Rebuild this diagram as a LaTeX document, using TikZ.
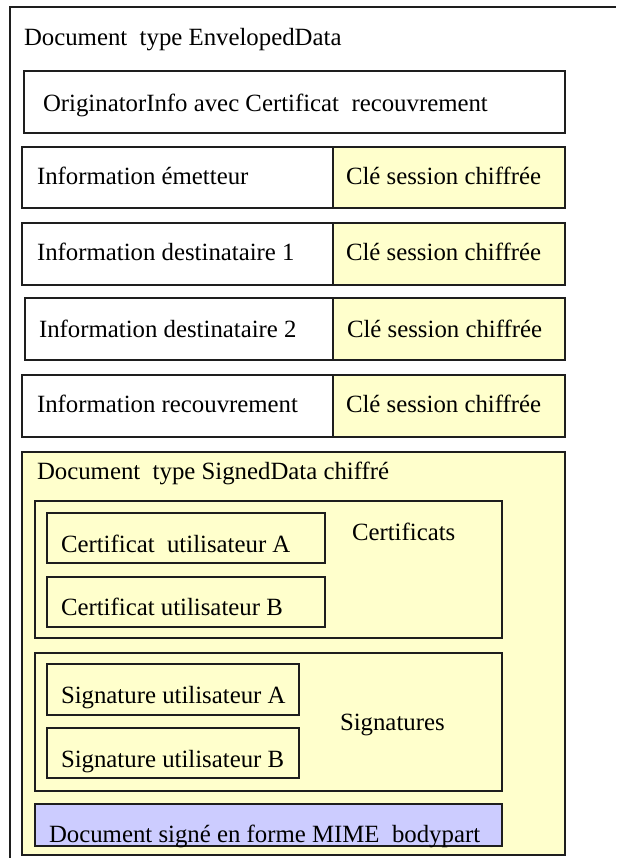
\documentclass[tikz,border=0pt]{standalone}
\usepackage{fontspec}
\setmainfont{Liberation Serif}
\definecolor{lightyellow}{HTML}{FFFFCC}
\definecolor{lavender}{HTML}{CCCCFF}
\definecolor{edge}{HTML}{1E1E1E}
\begin{document}
\begin{tikzpicture}[x=1pt,y=-1pt,
  box/.style={draw=edge, line width=1.5pt, inner sep=0pt, outer sep=0pt, anchor=north west},
  ybox/.style={box, fill=lightyellow},
  lbl/.style={anchor=base west, inner sep=0pt, outer sep=0pt, font=\fontsize{24.8}{30}\selectfont, text=black},
]
\useasboundingbox (0,0) rectangle (616,858);
\fill[white] (0,0) rectangle (616,858);
% outer frame (clipped at top/right/bottom)
\coordinate (oBL) at (10,858);
\coordinate (oTL) at (10,7);
\coordinate (oTR) at (616,7);
\draw[draw=edge, line width=2pt] (oBL) -- (oTL) -- (oTR);
\node[lbl] (tenv) at (24,46) {Document\ \ type EnvelopedData};

% originator info
\node[box, minimum width=541pt, minimum height=62pt] (orig) at (24,71) {};
\node[lbl] (torig) at (43,112) {OriginatorInfo avec Certificat\ \ recouvrement};

% recipient rows
\node[box,  minimum width=311pt, minimum height=61pt] (r1l) at (22,147) {};
\node[ybox, minimum width=232pt, minimum height=61pt] (r1r) at (333,147) {};
\node[lbl] (t1l) at (37,185) {Information émetteur};
\node[lbl] (t1r) at (346,185) {Clé session chiffrée};

\node[box,  minimum width=311pt, minimum height=62pt] (r2l) at (22,223) {};
\node[ybox, minimum width=232pt, minimum height=62pt] (r2r) at (333,223) {};
\node[lbl] (t2l) at (37,261) {Information destinataire 1};
\node[lbl] (t2r) at (346,261) {Clé session chiffrée};

\node[box,  minimum width=308pt, minimum height=62pt] (r3l) at (25,298) {};
\node[ybox, minimum width=232pt, minimum height=62pt] (r3r) at (333,298) {};
\node[lbl] (t3l) at (39,337) {Information destinataire 2};
\node[lbl] (t3r) at (347,337) {Clé session chiffrée};

\node[box,  minimum width=311pt, minimum height=62pt] (r4l) at (22,375) {};
\node[ybox, minimum width=232pt, minimum height=62pt] (r4r) at (333,375) {};
\node[lbl] (t4l) at (37,412) {Information recouvrement};
\node[lbl] (t4r) at (346,412) {Clé session chiffrée};

% signed data
\node[ybox, minimum width=543pt, minimum height=403pt] (sd) at (22,452) {};
\node[lbl] (tsd) at (37,479) {Document\ \ type SignedData chiffré};

\node[ybox, minimum width=467pt, minimum height=137pt] (cert) at (35,501) {};
\node[ybox, minimum width=278pt, minimum height=50pt] (ca) at (47,513) {};
\node[ybox, minimum width=278pt, minimum height=50pt] (cb) at (47,577) {};
\node[lbl] (tca) at (61,552) {Certificat\ \ utilisateur A};
\node[lbl] (tcb) at (61,615) {Certificat utilisateur B};
\node[lbl] (tcert) at (352,540) {Certificats};

\node[ybox, minimum width=467pt, minimum height=138pt] (sig) at (35,653) {};
\node[ybox, minimum width=252pt, minimum height=51pt] (sa) at (47,664) {};
\node[ybox, minimum width=252pt, minimum height=50pt] (sb) at (47,728) {};
\node[lbl] (tsa) at (61,703) {Signature utilisateur A};
\node[lbl] (tsb) at (61,767) {Signature utilisateur B};
\node[lbl] (tsig) at (340,730) {Signatures};

\node[box, fill=lavender, minimum width=467pt, minimum height=42pt] (mime) at (35,804) {};
\node[lbl] (tmime) at (49,842) {Document signé en forme MIME\ \ bodypart};
\end{tikzpicture}
\end{document}
